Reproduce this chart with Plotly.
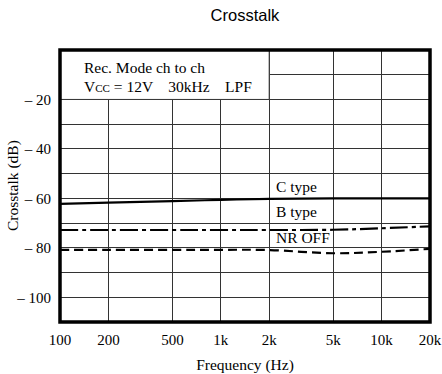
import plotly.graph_objects as go

freq = [100, 200, 500, 1000, 2000, 5000, 10000, 20000]
c_type = [-62.2, -61.7, -61.1, -60.6, -60.2, -60.0, -60.0, -60.0]
b_type = [-72.8, -72.8, -72.8, -72.8, -72.8, -72.7, -72.1, -71.3]
nr_off = [-80.8, -80.8, -80.8, -80.8, -80.9, -82.2, -81.6, -80.4]

x_ticks = [100, 200, 500, 1000, 2000, 5000, 10000, 20000]
x_labels = ["100", "200", "500", "1k", "2k", "5k", "10k", "20k"]
y_ticks = [-100, -90, -80, -70, -60, -50, -40, -30, -20, -10]
y_labels = ["– 100", "", "– 80", "", "– 60", "", "– 40", "", "– 20", ""]

serif = "Liberation Serif, Times New Roman, serif"
fs = 15.5

fig = go.Figure()
fig.add_trace(go.Scatter(x=freq, y=c_type, mode="lines", line=dict(color="black", width=2.2, shape="spline"), name="C type"))
fig.add_trace(go.Scatter(x=freq, y=b_type, mode="lines", line=dict(color="black", width=2.2, dash="18px,4px,4px,4px", shape="spline"), name="B type"))
fig.add_trace(go.Scatter(x=freq, y=nr_off, mode="lines", line=dict(color="black", width=2.2, dash="9px,5px", shape="spline"), name="NR OFF"))

fig.update_xaxes(type="log", range=[2, 4.30103], tickvals=x_ticks, ticktext=x_labels,
                 showgrid=True, gridcolor="#333", gridwidth=1, zeroline=False, automargin=False,
                 ticks="outside", ticklen=4, tickcolor="rgba(0,0,0,0)",
                 tickfont=dict(family=serif, size=15, color="black"),
                 title=dict(text="Frequency (Hz)", font=dict(family=serif, size=fs, color="black"), standoff=12))
fig.update_yaxes(range=[-110, 0], tickvals=y_ticks, ticktext=y_labels,
                 showgrid=True, gridcolor="#333", gridwidth=1, zeroline=False, automargin=False,
                 ticks="outside", ticklen=5, tickcolor="rgba(0,0,0,0)",
                 tickfont=dict(family=serif, size=15, color="black"))

# y-axis title placed as rotated text
fig.add_annotation(x=-0.127, y=0.5, xref="paper", yref="paper", xanchor="center", yanchor="middle",
                   text="Crosstalk (dB)", textangle=-90, showarrow=False,
                   font=dict(family=serif, size=fs, color="black"))

# white box behind the header text
fig.add_shape(type="rect", xref="x", yref="y", x0=100, x1=2000, y0=-20, y1=0,
              fillcolor="white", line=dict(color="#333", width=1), layer="above")
# thick frame
fig.add_shape(type="rect", xref="paper", yref="paper", x0=0, x1=1, y0=0, y1=1,
              line=dict(color="black", width=3.5), layer="above")

fig.add_annotation(x=0.06, y=0.934, xref="paper", yref="paper", xanchor="left", yanchor="middle",
                   text="Rec. Mode ch to ch", showarrow=False, font=dict(family=serif, size=fs, color="black"))
fig.add_annotation(x=0.06, y=0.864, xref="paper", yref="paper", xanchor="left", yanchor="middle",
                   text="V<span style='font-size:11px'>CC</span> = 12V    30kHz    LPF", showarrow=False,
                   font=dict(family=serif, size=fs, color="black"))

for txt, yv in [("C type", -55.3), ("B type", -65.5), ("NR OFF", -76.0)]:
    fig.add_annotation(x=3.33, y=yv, xref="x", yref="y", xanchor="left", yanchor="middle",
                       text=txt, showarrow=False, font=dict(family=serif, size=fs, color="black"))

fig.update_layout(
    width=442, height=374,
    margin=dict(l=60, r=12, t=50, b=52, autoexpand=False),
    paper_bgcolor="white", plot_bgcolor="white",
    showlegend=False,
    title=dict(text="Crosstalk", x=0.5, xref="paper", xanchor="center", y=0.96, yanchor="middle",
               font=dict(family="Liberation Sans, Arial, sans-serif", size=16.5, color="black")),
)

fig.write_html("out.html", config={"displayModeBar": False},
               post_script="document.body.style.margin='0px';")
